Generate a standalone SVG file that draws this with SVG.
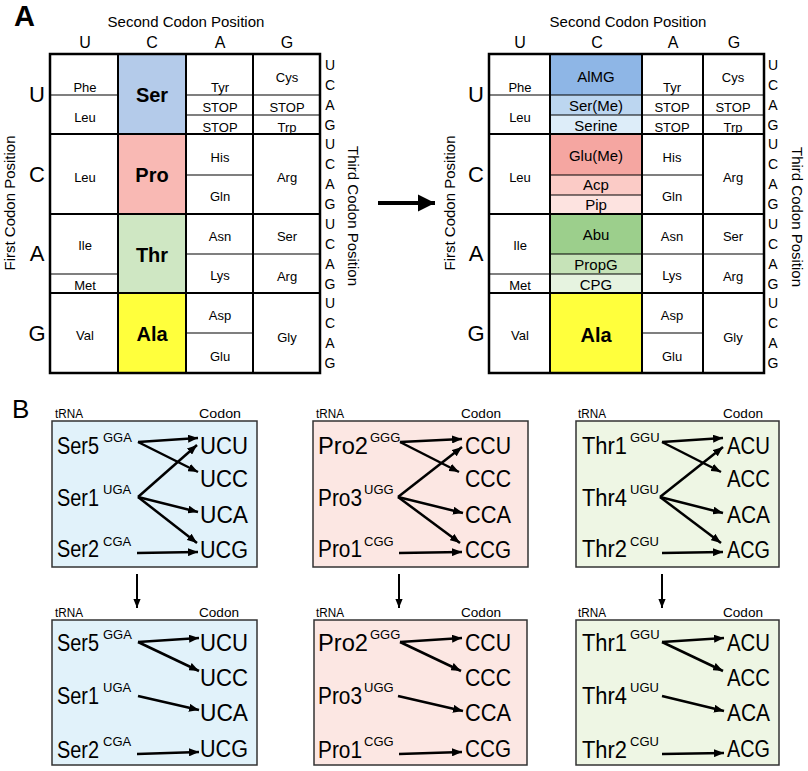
<svg xmlns="http://www.w3.org/2000/svg" width="808" height="771" viewBox="0 0 808 771">
<defs>
<marker id="ah" viewBox="0 0 10 8" refX="10" refY="4" markerWidth="4" markerHeight="3.2" orient="auto" markerUnits="strokeWidth"><path d="M0,0 L10,4 L0,8 z" fill="#000"/></marker>
<marker id="ahd" viewBox="0 0 10 8" refX="10" refY="4" markerWidth="4.5" markerHeight="3.6" orient="auto" markerUnits="strokeWidth"><path d="M0,0 L10,4 L0,8 z" fill="#000"/></marker>
<marker id="ahb" viewBox="0 0 10 10" refX="10" refY="5" markerWidth="4.3" markerHeight="4.3" orient="auto" markerUnits="strokeWidth"><path d="M0,0 L10,5 L0,10 z" fill="#000"/></marker>
</defs>
<style>
text{font-family:"Liberation Sans",Arial,sans-serif;fill:#000}
.aa{font-size:13px;text-anchor:middle}
.aar{font-size:15px;text-anchor:middle}
.aab{font-size:20px;font-weight:bold;text-anchor:middle}
.ax{font-size:15px;text-anchor:middle}
.col{font-size:16px;text-anchor:middle}
.row{font-size:22px;text-anchor:middle}
.thd{font-size:14px;text-anchor:middle}
.grid{stroke:#000;stroke-width:2;fill:none}
.sub{stroke:#000;stroke-width:1.2;fill:none}
.box{stroke:#333;stroke-width:1.5}
.big{font-size:23px}
.sup{font-size:13px}
.lab{font-size:12px}
.arr{stroke:#000;stroke-width:2.5;fill:none;marker-end:url(#ah)}
.darr{stroke:#000;stroke-width:2;fill:none;marker-end:url(#ahd)}
</style>
<rect width="808" height="771" fill="#fff"/>

<text x="14" y="26" style="font-size:29px;font-weight:bold">A</text>
<text x="12" y="418" style="font-size:26px">B</text>

<!-- Left codon table -->
<g id="table-left">
<rect x="118" y="54" width="68" height="80" fill="#b4cbea"/>
<rect x="118" y="134" width="68" height="80" fill="#f9b9b4"/>
<rect x="118" y="214" width="68" height="79" fill="#cfe7c3"/>
<rect x="118" y="293" width="68" height="80" fill="#ffff3c"/>
<rect x="50" y="54" width="270" height="319" class="grid" style="stroke-width:2.5"/>
<path class="grid" d="M118,54V373M186,54V373M253,54V373M50,134H320M50,214H320M50,293H320"/>
<path class="sub" d="M50,95H118M50,274H118M186,95H253M186,115H253M186,175H253M186,254H253M186,333H253M253,95H320M253,115H320M253,254H320"/>
<text class="ax" x="186" y="27">Second Codon Position</text>
<text class="ax" transform="translate(15,203) rotate(-90)">First Codon Position</text>
<text class="ax" transform="translate(348,216) rotate(90)">Third Codon Position</text>
<text class="col" x="85" y="48">U</text><text class="col" x="152" y="48">C</text><text class="col" x="220" y="48">A</text><text class="col" x="287" y="48">G</text>
<text class="row" x="37" y="102">U</text><text class="row" x="37" y="182">C</text><text class="row" x="37" y="261">A</text><text class="row" x="37" y="341">G</text>
<g class="thd">
<text x="330" y="70">U</text><text x="330" y="90">C</text><text x="330" y="110">A</text><text x="330" y="130">G</text>
<text x="330" y="149">U</text><text x="330" y="169">C</text><text x="330" y="189">A</text><text x="330" y="209">G</text>
<text x="330" y="229">U</text><text x="330" y="249">C</text><text x="330" y="269">A</text><text x="330" y="289">G</text>
<text x="330" y="308">U</text><text x="330" y="328">C</text><text x="330" y="348">A</text><text x="330" y="368">G</text>
</g>
<text class="aa" x="85" y="92">Phe</text>
<text class="aa" x="85" y="122">Leu</text>
<text class="aa" x="85" y="182">Leu</text>
<text class="aa" x="85" y="250">Ile</text>
<text class="aa" x="85" y="290">Met</text>
<text class="aa" x="85" y="340">Val</text>
<text class="aab" x="152" y="102">Ser</text>
<text class="aab" x="152" y="182">Pro</text>
<text class="aab" x="152" y="262">Thr</text>
<text class="aab" x="152" y="341">Ala</text>
<text class="aa" x="220" y="92">Tyr</text>
<text class="aa" x="220" y="112">STOP</text>
<text class="aa" x="220" y="132">STOP</text>
<text class="aa" x="220" y="162">His</text>
<text class="aa" x="220" y="201">Gln</text>
<text class="aa" x="220" y="241">Asn</text>
<text class="aa" x="220" y="280">Lys</text>
<text class="aa" x="220" y="320">Asp</text>
<text class="aa" x="220" y="361">Glu</text>
<text class="aa" x="287" y="82">Cys</text>
<text class="aa" x="287" y="112">STOP</text>
<text class="aa" x="287" y="132">Trp</text>
<text class="aa" x="287" y="182">Arg</text>
<text class="aa" x="287" y="241">Ser</text>
<text class="aa" x="287" y="281">Arg</text>
<text class="aa" x="287" y="342">Gly</text>
</g>

<!-- Right codon table -->
<g id="table-right">
<rect x="550" y="54" width="92" height="41" fill="#8eb6e6"/>
<rect x="550" y="95" width="92" height="20" fill="#bcd6f0"/>
<rect x="550" y="115" width="92" height="19" fill="#ddedf9"/>
<rect x="550" y="134" width="92" height="41" fill="#f5a6a1"/>
<rect x="550" y="175" width="92" height="20" fill="#fbcbc6"/>
<rect x="550" y="195" width="92" height="19" fill="#fde3e0"/>
<rect x="550" y="214" width="92" height="40" fill="#9ccf8c"/>
<rect x="550" y="254" width="92" height="20" fill="#c6e3b8"/>
<rect x="550" y="274" width="92" height="19" fill="#e6f3e0"/>
<rect x="550" y="293" width="92" height="80" fill="#ffff3c"/>
<rect x="489" y="54" width="275" height="319" class="grid" style="stroke-width:2.5"/>
<path class="grid" d="M550,54V373M642,54V373M703,54V373M489,134H764M489,214H764M489,293H764"/>
<path class="sub" d="M489,95H550M489,274H550M550,95H642M550,115H642M550,175H642M550,195H642M550,254H642M550,274H642M642,95H703M642,115H703M642,175H703M642,254H703M642,333H703M703,95H764M703,115H764M703,254H764"/>
<text class="ax" x="628" y="27">Second Codon Position</text>
<text class="ax" transform="translate(455,203) rotate(-90)">First Codon Position</text>
<text class="ax" transform="translate(792,217) rotate(90)">Third Codon Position</text>
<text class="col" x="520" y="48">U</text><text class="col" x="597" y="48">C</text><text class="col" x="673" y="48">A</text><text class="col" x="734" y="48">G</text>
<text class="row" x="476" y="102">U</text><text class="row" x="476" y="182">C</text><text class="row" x="476" y="261">A</text><text class="row" x="476" y="341">G</text>
<g class="thd">
<text x="773" y="70">U</text><text x="773" y="90">C</text><text x="773" y="110">A</text><text x="773" y="130">G</text>
<text x="773" y="149">U</text><text x="773" y="169">C</text><text x="773" y="189">A</text><text x="773" y="209">G</text>
<text x="773" y="229">U</text><text x="773" y="249">C</text><text x="773" y="269">A</text><text x="773" y="289">G</text>
<text x="773" y="308">U</text><text x="773" y="328">C</text><text x="773" y="348">A</text><text x="773" y="368">G</text>
</g>
<text class="aa" x="520" y="92">Phe</text>
<text class="aa" x="520" y="122">Leu</text>
<text class="aa" x="520" y="182">Leu</text>
<text class="aa" x="520" y="250">Ile</text>
<text class="aa" x="520" y="290">Met</text>
<text class="aa" x="520" y="340">Val</text>
<text class="aar" x="596" y="82">AlMG</text>
<text class="aar" x="596" y="111">Ser(Me)</text>
<text class="aar" x="596" y="131">Serine</text>
<text class="aar" x="596" y="161">Glu(Me)</text>
<text class="aar" x="596" y="190">Acp</text>
<text class="aar" x="596" y="210">Pip</text>
<text class="aar" x="596" y="240">Abu</text>
<text class="aar" x="596" y="270">PropG</text>
<text class="aar" x="596" y="290">CPG</text>
<text class="aab" x="596" y="342">Ala</text>
<text class="aa" x="672" y="92">Tyr</text>
<text class="aa" x="672" y="112">STOP</text>
<text class="aa" x="672" y="132">STOP</text>
<text class="aa" x="672" y="162">His</text>
<text class="aa" x="672" y="201">Gln</text>
<text class="aa" x="672" y="241">Asn</text>
<text class="aa" x="672" y="280">Lys</text>
<text class="aa" x="672" y="320">Asp</text>
<text class="aa" x="672" y="361">Glu</text>
<text class="aa" x="733" y="82">Cys</text>
<text class="aa" x="733" y="112">STOP</text>
<text class="aa" x="733" y="132">Trp</text>
<text class="aa" x="733" y="182">Arg</text>
<text class="aa" x="733" y="241">Ser</text>
<text class="aa" x="733" y="281">Arg</text>
<text class="aa" x="733" y="342">Gly</text>
</g>

<!-- Panel B boxes -->
<g id="ser-top">
<rect class="box" x="52" y="421" width="205" height="146" fill="#e1f2fa"/>
<text class="lab" x="55" y="418" textLength="28" lengthAdjust="spacingAndGlyphs">tRNA</text>
<text class="lab" x="199" y="418" textLength="42" lengthAdjust="spacingAndGlyphs">Codon</text>
<text class="big" x="57" y="454" textLength="42" lengthAdjust="spacingAndGlyphs">Ser5</text><text class="sup" x="103" y="442">GGA</text>
<text class="big" x="57" y="506" textLength="42" lengthAdjust="spacingAndGlyphs">Ser1</text><text class="sup" x="103" y="494">UGA</text>
<text class="big" x="57" y="557" textLength="42" lengthAdjust="spacingAndGlyphs">Ser2</text><text class="sup" x="103" y="546">CGA</text>
<text class="big" x="200" y="454" textLength="48" lengthAdjust="spacingAndGlyphs">UCU</text>
<text class="big" x="200" y="487" textLength="48" lengthAdjust="spacingAndGlyphs">UCC</text>
<text class="big" x="200" y="523" textLength="48" lengthAdjust="spacingAndGlyphs">UCA</text>
<text class="big" x="200" y="558" textLength="48" lengthAdjust="spacingAndGlyphs">UCG</text>
</g>
<g id="pro-top">
<rect class="box" x="313" y="421" width="215" height="146" fill="#fce7e3"/>
<text class="lab" x="316" y="418" textLength="28" lengthAdjust="spacingAndGlyphs">tRNA</text>
<text class="lab" x="461" y="418" textLength="40" lengthAdjust="spacingAndGlyphs">Codon</text>
<text class="big" x="318" y="454" textLength="50" lengthAdjust="spacingAndGlyphs">Pro2</text><text class="sup" x="370" y="442">GGG</text>
<text class="big" x="318" y="506" textLength="44" lengthAdjust="spacingAndGlyphs">Pro3</text><text class="sup" x="364" y="494">UGG</text>
<text class="big" x="318" y="557" textLength="44" lengthAdjust="spacingAndGlyphs">Pro1</text><text class="sup" x="364" y="546">CGG</text>
<text class="big" x="465" y="454" textLength="46" lengthAdjust="spacingAndGlyphs">CCU</text>
<text class="big" x="465" y="487" textLength="46" lengthAdjust="spacingAndGlyphs">CCC</text>
<text class="big" x="465" y="523" textLength="46" lengthAdjust="spacingAndGlyphs">CCA</text>
<text class="big" x="465" y="558" textLength="46" lengthAdjust="spacingAndGlyphs">CCG</text>
</g>
<g id="thr-top">
<rect class="box" x="576" y="421" width="203" height="146" fill="#eef6e4"/>
<text class="lab" x="578" y="418" textLength="28" lengthAdjust="spacingAndGlyphs">tRNA</text>
<text class="lab" x="723" y="418" textLength="40" lengthAdjust="spacingAndGlyphs">Codon</text>
<text class="big" x="582" y="454" textLength="45" lengthAdjust="spacingAndGlyphs">Thr1</text><text class="sup" x="630" y="442">GGU</text>
<text class="big" x="582" y="506" textLength="45" lengthAdjust="spacingAndGlyphs">Thr4</text><text class="sup" x="630" y="494">UGU</text>
<text class="big" x="582" y="557" textLength="45" lengthAdjust="spacingAndGlyphs">Thr2</text><text class="sup" x="630" y="546">CGU</text>
<text class="big" x="727" y="454" textLength="43" lengthAdjust="spacingAndGlyphs">ACU</text>
<text class="big" x="727" y="487" textLength="43" lengthAdjust="spacingAndGlyphs">ACC</text>
<text class="big" x="727" y="523" textLength="43" lengthAdjust="spacingAndGlyphs">ACA</text>
<text class="big" x="727" y="558" textLength="43" lengthAdjust="spacingAndGlyphs">ACG</text>
</g>
<g id="ser-bottom">
<rect class="box" x="52" y="620" width="205" height="145" fill="#e1f2fa"/>
<text class="lab" x="55" y="617" textLength="28" lengthAdjust="spacingAndGlyphs">tRNA</text>
<text class="lab" x="199" y="617" textLength="40" lengthAdjust="spacingAndGlyphs">Codon</text>
<text class="big" x="57" y="651" textLength="42" lengthAdjust="spacingAndGlyphs">Ser5</text><text class="sup" x="103" y="639">GGA</text>
<text class="big" x="57" y="704" textLength="42" lengthAdjust="spacingAndGlyphs">Ser1</text><text class="sup" x="103" y="692">UGA</text>
<text class="big" x="57" y="758" textLength="42" lengthAdjust="spacingAndGlyphs">Ser2</text><text class="sup" x="103" y="746">CGA</text>
<text class="big" x="200" y="651" textLength="48" lengthAdjust="spacingAndGlyphs">UCU</text>
<text class="big" x="200" y="686" textLength="48" lengthAdjust="spacingAndGlyphs">UCC</text>
<text class="big" x="200" y="721" textLength="48" lengthAdjust="spacingAndGlyphs">UCA</text>
<text class="big" x="200" y="757" textLength="48" lengthAdjust="spacingAndGlyphs">UCG</text>
</g>
<g id="pro-bottom">
<rect class="box" x="314" y="620" width="213" height="145" fill="#fce7e3"/>
<text class="lab" x="316" y="617" textLength="28" lengthAdjust="spacingAndGlyphs">tRNA</text>
<text class="lab" x="461" y="617" textLength="40" lengthAdjust="spacingAndGlyphs">Codon</text>
<text class="big" x="318" y="651" textLength="50" lengthAdjust="spacingAndGlyphs">Pro2</text><text class="sup" x="370" y="639">GGG</text>
<text class="big" x="318" y="704" textLength="44" lengthAdjust="spacingAndGlyphs">Pro3</text><text class="sup" x="364" y="692">UGG</text>
<text class="big" x="318" y="758" textLength="44" lengthAdjust="spacingAndGlyphs">Pro1</text><text class="sup" x="364" y="746">CGG</text>
<text class="big" x="465" y="651" textLength="46" lengthAdjust="spacingAndGlyphs">CCU</text>
<text class="big" x="465" y="686" textLength="46" lengthAdjust="spacingAndGlyphs">CCC</text>
<text class="big" x="465" y="721" textLength="46" lengthAdjust="spacingAndGlyphs">CCA</text>
<text class="big" x="465" y="757" textLength="46" lengthAdjust="spacingAndGlyphs">CCG</text>
</g>
<g id="thr-bottom">
<rect class="box" x="576" y="620" width="203" height="145" fill="#eef6e4"/>
<text class="lab" x="578" y="617" textLength="28" lengthAdjust="spacingAndGlyphs">tRNA</text>
<text class="lab" x="723" y="617" textLength="40" lengthAdjust="spacingAndGlyphs">Codon</text>
<text class="big" x="582" y="651" textLength="45" lengthAdjust="spacingAndGlyphs">Thr1</text><text class="sup" x="630" y="639">GGU</text>
<text class="big" x="582" y="704" textLength="45" lengthAdjust="spacingAndGlyphs">Thr4</text><text class="sup" x="630" y="692">UGU</text>
<text class="big" x="582" y="758" textLength="45" lengthAdjust="spacingAndGlyphs">Thr2</text><text class="sup" x="630" y="746">CGU</text>
<text class="big" x="727" y="651" textLength="43" lengthAdjust="spacingAndGlyphs">ACU</text>
<text class="big" x="727" y="686" textLength="43" lengthAdjust="spacingAndGlyphs">ACC</text>
<text class="big" x="727" y="721" textLength="43" lengthAdjust="spacingAndGlyphs">ACA</text>
<text class="big" x="727" y="757" textLength="43" lengthAdjust="spacingAndGlyphs">ACG</text>
</g>

<g id="connectors">
<line x1="378" y1="203" x2="435" y2="203" style="stroke:#000;stroke-width:4;marker-end:url(#ahb)"/>
<line class="darr" x1="137" y1="574" x2="137" y2="608"/>
<line class="darr" x1="399" y1="574" x2="399" y2="608"/>
<line class="darr" x1="662" y1="574" x2="662" y2="608"/>
<!-- Ser top -->
<line class="arr" x1="138" y1="442" x2="198" y2="438"/>
<line class="arr" x1="138" y1="442" x2="198" y2="472"/>
<line class="arr" x1="138" y1="497" x2="197" y2="445"/>
<line class="arr" x1="138" y1="497" x2="198" y2="512"/>
<line class="arr" x1="138" y1="497" x2="197" y2="543"/>
<line class="arr" x1="137" y1="553" x2="198" y2="552"/>
<!-- Pro top -->
<line class="arr" x1="400" y1="442" x2="462" y2="439"/>
<line class="arr" x1="400" y1="442" x2="459" y2="472"/>
<line class="arr" x1="398" y1="497" x2="462" y2="447"/>
<line class="arr" x1="398" y1="497" x2="463" y2="513"/>
<line class="arr" x1="398" y1="497" x2="460" y2="543"/>
<line class="arr" x1="399" y1="553" x2="462" y2="552"/>
<!-- Thr top -->
<line class="arr" x1="662" y1="442" x2="723" y2="438"/>
<line class="arr" x1="662" y1="442" x2="721" y2="472"/>
<line class="arr" x1="660" y1="497" x2="723" y2="447"/>
<line class="arr" x1="660" y1="497" x2="723" y2="513"/>
<line class="arr" x1="660" y1="497" x2="721" y2="543"/>
<line class="arr" x1="662" y1="553" x2="723" y2="552"/>
<!-- Ser bottom -->
<line class="arr" x1="138" y1="642" x2="199" y2="638"/>
<line class="arr" x1="138" y1="642" x2="199" y2="671"/>
<line class="arr" x1="138" y1="696" x2="199" y2="710"/>
<line class="arr" x1="137" y1="754" x2="199" y2="752"/>
<!-- Pro bottom -->
<line class="arr" x1="400" y1="642" x2="462" y2="638"/>
<line class="arr" x1="400" y1="642" x2="461" y2="671"/>
<line class="arr" x1="398" y1="696" x2="463" y2="711"/>
<line class="arr" x1="399" y1="754" x2="462" y2="752"/>
<!-- Thr bottom -->
<line class="arr" x1="662" y1="642" x2="724" y2="638"/>
<line class="arr" x1="662" y1="642" x2="723" y2="671"/>
<line class="arr" x1="662" y1="696" x2="724" y2="711"/>
<line class="arr" x1="662" y1="754" x2="724" y2="753"/>
</g>
</svg>
